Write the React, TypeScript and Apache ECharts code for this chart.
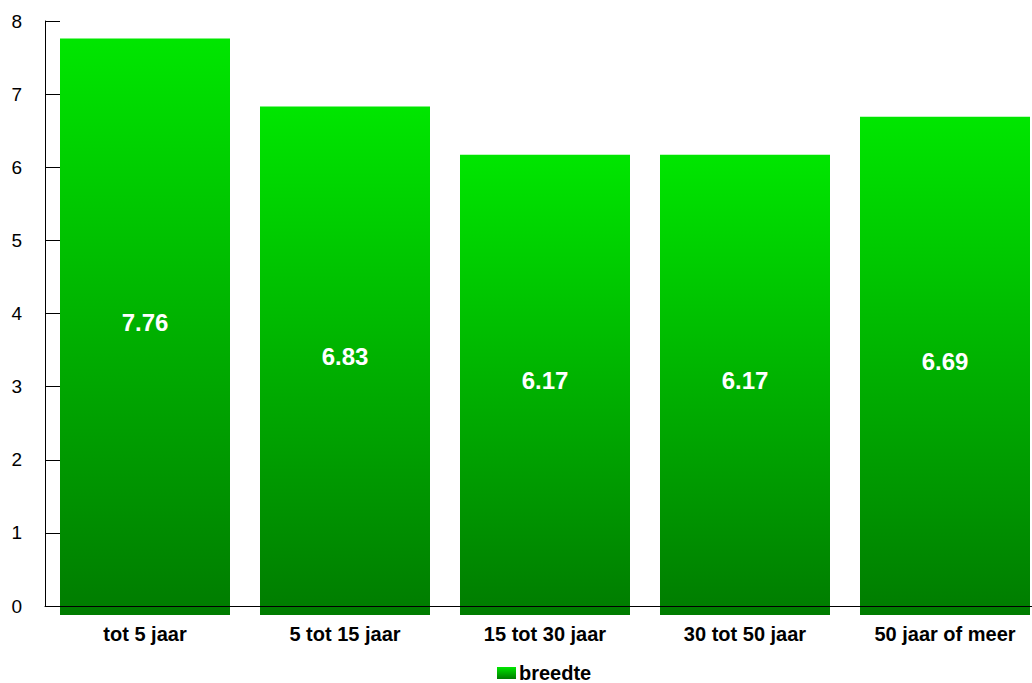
import React, { useEffect, useRef } from "react";
import * as echarts from "echarts";

const categories = ["tot 5 jaar", "5 tot 15 jaar", "15 tot 30 jaar", "30 tot 50 jaar", "50 jaar of meer"];
const breedte = [7.76, 6.83, 6.17, 6.17, 6.69];
const seriesName = "breedte";

const FONT = "'Liberation Sans', Arial, sans-serif";

export default function App() {
  const ref = useRef<HTMLDivElement>(null);
  useEffect(() => {
    document.body.style.margin = "0";
    const chart = echarts.init(ref.current!, null, { renderer: "svg" });
    const grad = () =>
      new echarts.graphic.LinearGradient(0, 0, 0, 1, [
        { offset: 0, color: "#00E600" },
        { offset: 1, color: "#007C00" },
      ]);
    chart.setOption({
      animation: false,
      textStyle: { fontFamily: FONT },
      grid: { left: 45, top: 21, right: -13, bottom: 77, containLabel: false, outerBoundsMode: "none" },
      legend: {
        data: [{ name: seriesName, icon: "rect" }],
        left: 497,
        top: 663,
        padding: 0,
        itemWidth: 19,
        itemHeight: 12,
        itemGap: 3,
        textStyle: { fontFamily: FONT, fontSize: 20, fontWeight: "bold", color: "#000", padding: [0, 0, 0, -2], lineHeight: 20 },
      },
      xAxis: {
        type: "category",
        data: categories,
        z: 10,
        axisLine: { lineStyle: { color: "#000", width: 1 } },
        axisTick: { show: false },
        axisLabel: { fontFamily: FONT, fontSize: 20, fontWeight: "bold", color: "#000", margin: 18 },
        splitLine: { show: false },
      },
      yAxis: {
        type: "value",
        min: 0,
        max: 8,
        interval: 1,
        z: 10,
        axisLine: { show: true, lineStyle: { color: "#000", width: 1 } },
        axisTick: { show: true, inside: true, length: 15, lineStyle: { color: "#000" } },
        axisLabel: { fontFamily: FONT, fontSize: 19, color: "#000", margin: 23 },
        splitLine: { show: false },
      },
      series: [
        {
          name: seriesName,
          type: "custom",
          itemStyle: { color: grad() },
          data: breedte.map((v, i) => [i, v]),
          renderItem: (params: any, api: any) => {
            const idx = api.value(0);
            const val = api.value(1);
            const top = api.coord([idx, val]);
            const zero = api.coord([idx, 0]);
            const bw = api.size([1, 0])[0] * 0.85;
            const bottom = zero[1] + 9;
            const h = bottom - top[1];
            return {
              type: "group",
              children: [
                {
                  type: "rect",
                  shape: { x: top[0] - bw / 2, y: top[1], width: bw, height: h },
                  style: { fill: grad() },
                },
                {
                  type: "text",
                  x: top[0],
                  y: top[1] + h / 2 - 4,
                  style: {
                    text: val.toFixed(2),
                    fill: "#fff",
                    fontFamily: FONT,
                    fontSize: 24,
                    fontWeight: "bold",
                    align: "center",
                    verticalAlign: "middle",
                  },
                },
              ],
            };
          },
        },
      ],
    });
    return () => chart.dispose();
  }, []);
  return <div ref={ref} style={{ width: 1032, height: 683 }} />;
}
